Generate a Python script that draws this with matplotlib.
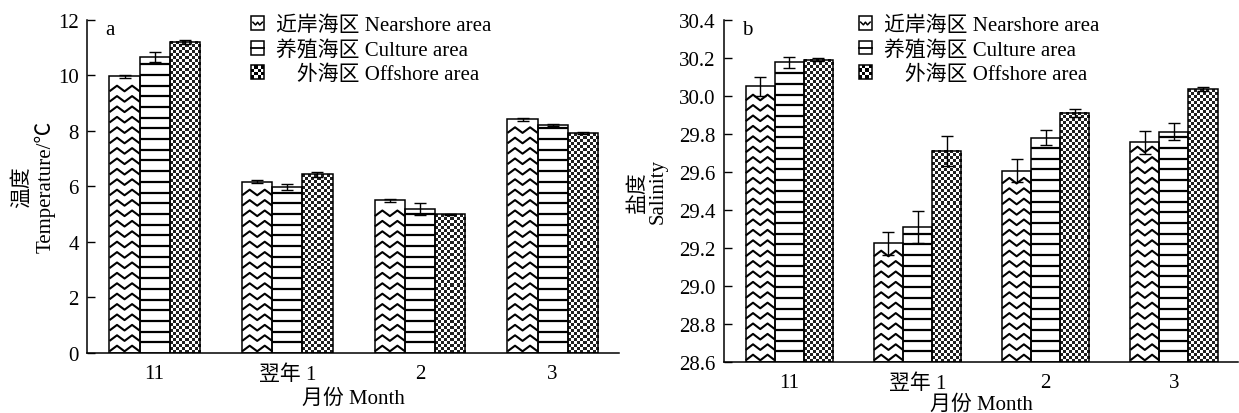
import numpy as np
import matplotlib.pyplot as plt
from matplotlib.patches import Rectangle
from matplotlib.collections import LineCollection
from matplotlib.legend_handler import HandlerBase

plt.rcParams['font.family'] = ['Liberation Serif', 'Noto Sans CJK SC']
plt.rcParams['font.size'] = 15

months = ['11', '翌年 1', '2', '3']
area_names = ['近岸海区 Nearshore area', '养殖海区 Culture area', '\u3000外海区 Offshore area']

# temperature (a)
temp_near = [9.96, 6.17, 5.50, 8.42]
temp_near_err = [0.05, 0.05, 0.05, 0.05]
temp_cult = [10.65, 5.98, 5.19, 8.22]
temp_cult_err = [0.17, 0.10, 0.22, 0.04]
temp_off = [11.20, 6.43, 4.99, 7.92]
temp_off_err = [0.08, 0.10, 0.03, 0.03]

# salinity (b)
sal_near = [30.05, 29.225, 29.605, 29.755]
sal_near_err = [0.05, 0.06, 0.06, 0.06]
sal_cult = [30.175, 29.31, 29.78, 29.81]
sal_cult_err = [0.03, 0.085, 0.04, 0.045]
sal_off = [30.19, 29.71, 29.91, 30.035]
sal_off_err = [0.008, 0.08, 0.02, 0.012]

W = 0.227


def px_scale(ax):
    bb = ax.get_window_extent()
    x0, x1 = ax.get_xlim()
    y0, y1 = ax.get_ylim()
    return (x1 - x0) / bb.width, (y1 - y0) / bb.height


def zigzag(ax, bars):
    # wavy fill, kept inside each bar by hand
    dx, dy = px_scale(ax)
    for p in bars:
        bx, by, bw, bh = p.get_x(), p.get_y(), p.get_width(), p.get_height()
        top = by + bh
        xs = np.linspace(bx, bx + bw, 9)
        segs = []
        k = 0
        while True:
            yk = by + (k * 10.4 + 4.5) * dy
            if yk + 3.5 * dy > top:
                break
            ys = yk + np.where(np.arange(len(xs)) % 4 == 2, 2.8,
                               np.where(np.arange(len(xs)) % 4 == 0, -2.8, 0.0)) * dy
            segs.append(np.column_stack([xs, ys]))
            k += 1
        lc = LineCollection(segs, colors='k', linewidths=1.5, zorder=2)
        ax.add_collection(lc, autolim=False)


def hlines(ax, bars):
    dx, dy = px_scale(ax)
    for p in bars:
        bx, by, bw, bh = p.get_x(), p.get_y(), p.get_width(), p.get_height()
        ys = np.arange(by + 10.7 * dy, by + bh - 2 * dy, 10.7 * dy)
        segs = [[(bx, y), (bx + bw, y)] for y in ys]
        lc = LineCollection(segs, colors='k', linewidths=1.6, zorder=2)
        ax.add_collection(lc, autolim=False)


def checker(ax, bars):
    dx, dy = px_scale(ax)
    for p in bars:
        bx, by, bw, bh = p.get_x(), p.get_y(), p.get_width(), p.get_height()
        nx = max(int(round(bw / dx / 3)), 1)
        ny = max(int(round(bh / dy / 3)), 1)
        arr = (np.add.outer(np.arange(ny), np.arange(nx)) % 2).astype(float)
        ax.imshow(arr, cmap='gray', vmin=-0.15, vmax=1, extent=(bx, bx + bw, by, by + bh),
                  aspect='auto', interpolation='nearest', zorder=2)


class IconHandler(HandlerBase):
    def __init__(self, kind):
        super().__init__()
        self.kind = kind

    def create_artists(self, legend, orig_handle, xdescent, ydescent, width, height, fontsize, trans):
        s = min(width, height)
        x0, y0 = -xdescent, -ydescent + (height - s) / 2
        arts = []
        if self.kind == 'off':
            n = 4
            c = s / n
            for i in range(n):
                for j in range(n):
                    if (i + j) % 2 == 0:
                        arts.append(Rectangle((x0 + i * c, y0 + j * c), c, c, facecolor='k',
                                              edgecolor='none', transform=trans))
        elif self.kind == 'cult':
            arts.append(plt.Line2D([x0, x0 + s], [y0 + s / 2, y0 + s / 2], color='k', lw=1.3,
                                   transform=trans))
        else:
            xs = x0 + np.array([0.15, 0.35, 0.5, 0.65, 0.85]) * s
            ys = y0 + np.array([0.55, 0.35, 0.55, 0.35, 0.55]) * s
            arts.append(plt.Line2D(xs, ys, color='k', lw=1.1, transform=trans))
        arts.append(Rectangle((x0, y0), s, s, facecolor='none', edgecolor='k', lw=1.1,
                              transform=trans))
        return arts


def panel(ax, near, near_err, cult, cult_err, off, off_err, base, ylim, yticks, fmt,
          letter, ylabel, leg_x, xpad, ypad):
    x = np.arange(len(months))
    ax.set_xlim(-0.51, 3.5)
    ax.set_ylim(*ylim)
    ek = dict(ecolor='k', elinewidth=1.0, capsize=4, capthick=1.0, zorder=4)
    b1 = ax.bar(x - W, np.array(near) - base, W, bottom=base, facecolor='none',
                edgecolor='k', linewidth=1.1, zorder=3)
    b2 = ax.bar(x, np.array(cult) - base, W, bottom=base, facecolor='none',
                edgecolor='k', linewidth=1.1, zorder=3)
    b3 = ax.bar(x + W, np.array(off) - base, W, bottom=base, facecolor='none',
                edgecolor='k', linewidth=1.1, zorder=3)
    ax.errorbar(x - W, near, yerr=near_err, fmt='none', **ek)
    ax.errorbar(x, cult, yerr=cult_err, fmt='none', **ek)
    ax.errorbar(x + W, off, yerr=off_err, fmt='none', **ek)
    zigzag(ax, b1)
    hlines(ax, b2)
    checker(ax, b3)
    ax.set_xlim(-0.51, 3.5)
    ax.set_ylim(*ylim)

    ax.set_xticks(x)
    ax.set_xticklabels(months)
    ax.set_yticks(yticks)
    ax.set_yticklabels([fmt % v for v in yticks])
    ax.tick_params(axis='x', length=0, pad=8)
    ax.tick_params(axis='y', direction='in', length=6, width=1, pad=6)
    for s in ['top', 'right']:
        ax.spines[s].set_visible(False)
    for s in ['left', 'bottom']:
        ax.spines[s].set_linewidth(1.1)
    ax.set_xlabel('月份 Month', labelpad=xpad)
    ax.set_ylabel(ylabel, linespacing=1.1, labelpad=ypad)
    ax.text(0.035, 1.0, letter, transform=ax.transAxes, ha='left', va='top')

    leg = ax.legend([b1, b2, b3], area_names, loc='upper left', bbox_to_anchor=(leg_x, 1.012),
                    frameon=False, borderpad=0, borderaxespad=0, labelspacing=0.22,
                    handlelength=0.65, handleheight=0.65, handletextpad=0.55,
                    handler_map={b1: IconHandler('near'), b2: IconHandler('cult'),
                                 b3: IconHandler('off')})
    return leg


fig = plt.figure(figsize=(12.39, 4.14), dpi=100)
ax1 = fig.add_axes([87 / 1239, 1 - 354 / 414, 532 / 1239, 333.3 / 414])
ax2 = fig.add_axes([724 / 1239, 1 - 363 / 414, 514 / 1239, 342.3 / 414])

panel(ax1, temp_near, temp_near_err, temp_cult, temp_cult_err, temp_off, temp_off_err,
      0, (0, 12), np.arange(0, 13, 2), '%d', 'a', '温度\nTemperature/℃', 0.308, 3, 2)
panel(ax2, sal_near, sal_near_err, sal_cult, sal_cult_err, sal_off, sal_off_err,
      28.6, (28.6, 30.4), np.linspace(28.6, 30.4, 10), '%.1f', 'b', '盐度\nSalinity', 0.262, 1, 8)

fig.savefig('out.png', dpi=100)
